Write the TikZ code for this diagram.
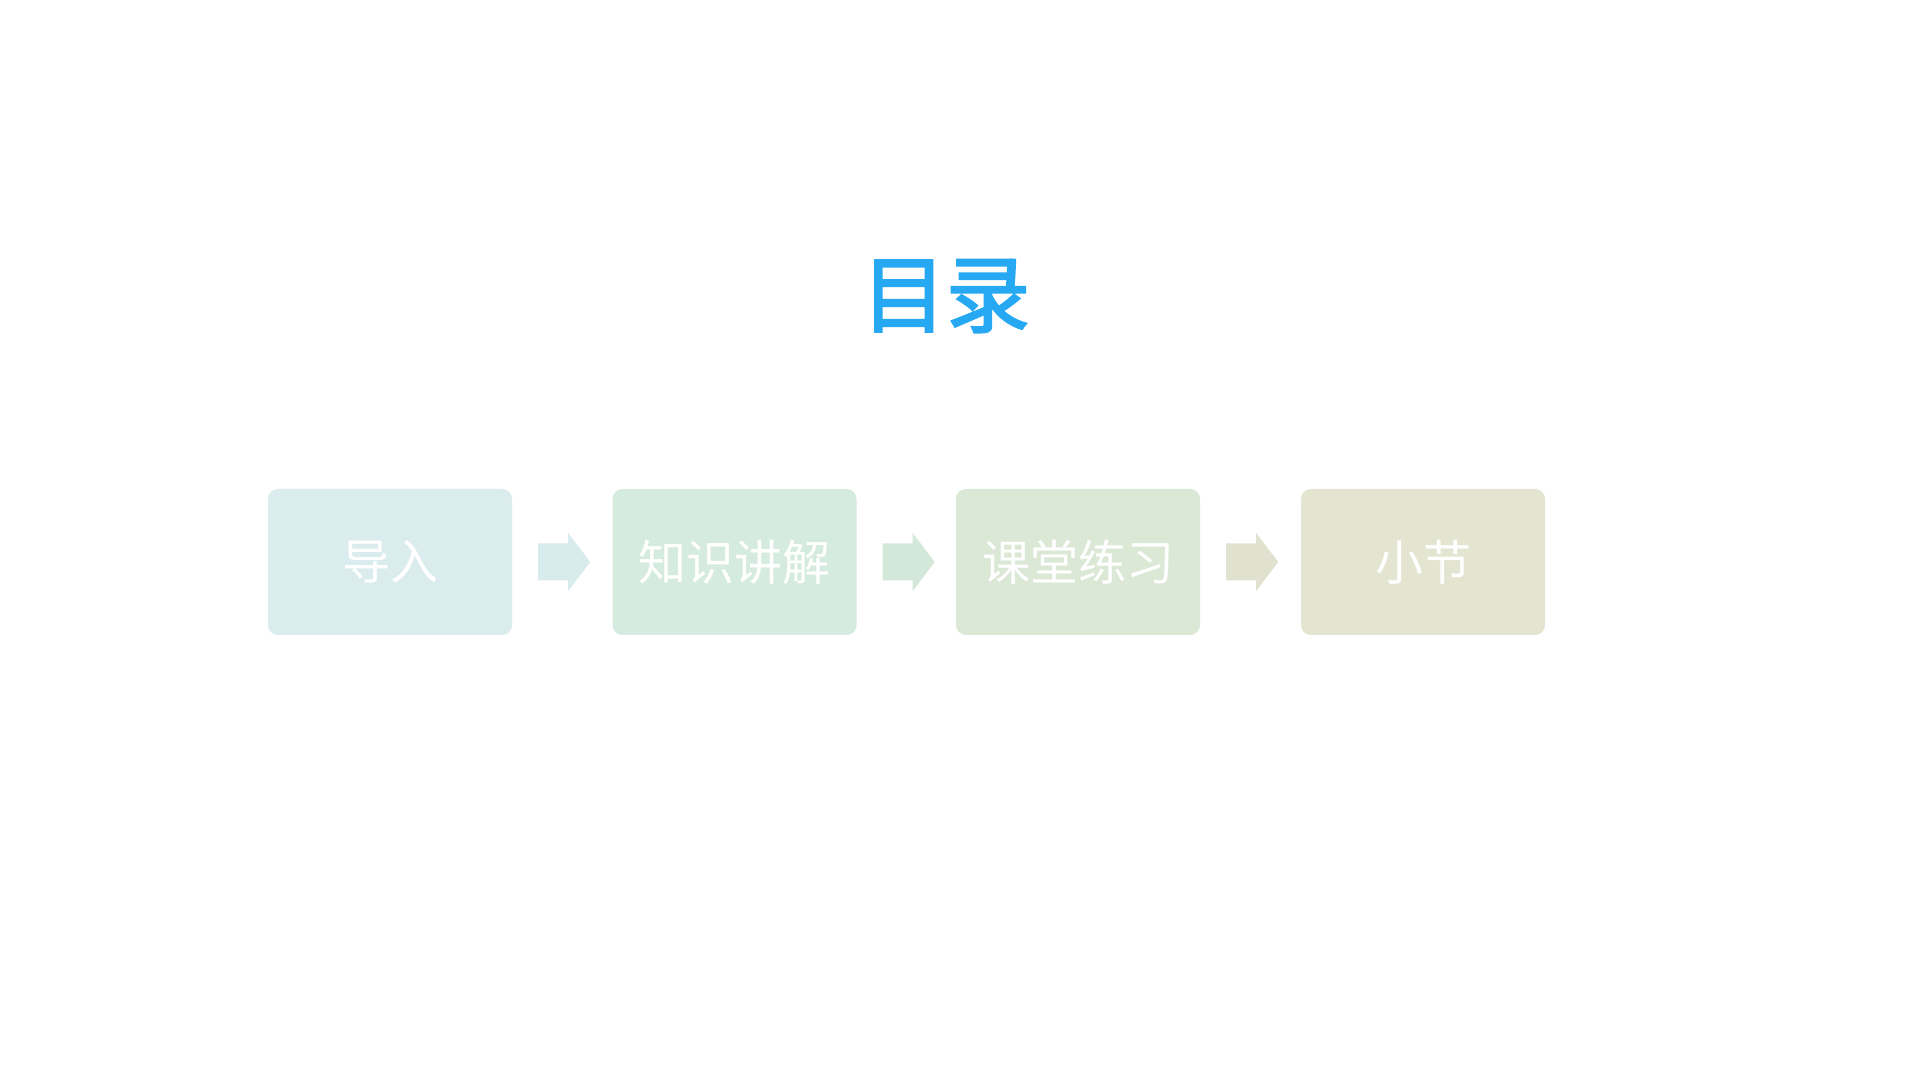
\documentclass[tikz,border=0pt]{standalone}
\usepackage{fontspec}
\newfontfamily\cjk{Noto Sans CJK SC}
\newfontfamily\cjktitle{Noto Sans CJK SC}[FakeBold=2.5]
\definecolor{titleblue}{HTML}{27A8F2}
\definecolor{boxA}{HTML}{DBECEE}
\definecolor{boxB}{HTML}{D6EBDF}
\definecolor{boxC}{HTML}{DBE8D5}
\definecolor{boxD}{HTML}{E3E5D1}
\definecolor{arrA}{HTML}{D8EBED}
\definecolor{arrB}{HTML}{D4E8D9}
\definecolor{arrC}{HTML}{E0E2CF}
\newcommand\blockarrow[2]{%
  \fill[#2] (#1) ++(0,18.5) -- ++(30,0) -- ++(0,10.5) -- ++(22,-29)
    -- ++(-22,-29) -- ++(0,10.5) -- ++(-30,0) -- cycle;}
\tikzset{
  stepbox/.style={rounded corners=10pt, minimum width=244pt, minimum height=146pt,
    inner sep=0pt, text=white, font=\cjk\fontsize{48}{48}\selectfont},
  titletext/.style={text=titleblue, font=\cjktitle\fontsize{84}{84}\selectfont, inner sep=0pt}
}
\begin{document}
\begin{tikzpicture}[x=1pt,y=1pt]
  \useasboundingbox[fill=white] (0,0) rectangle (1920,1080);
  \node[titletext] (title) at (946,784) {目录};
  \node[stepbox, fill=boxA] (b1) at (390,518) {导入};
  \node[stepbox, fill=boxB] (b2) at (734.5,518) {知识讲解};
  \node[stepbox, fill=boxC] (b3) at (1078,518) {课堂练习};
  \node[stepbox, fill=boxD] (b4) at (1423,518) {小节};
  \coordinate (a1) at ([xshift=26pt]b1.east);
  \coordinate (a2) at ([xshift=26pt]b2.east);
  \coordinate (a3) at ([xshift=26pt]b3.east);
  \blockarrow{a1}{arrA}
  \blockarrow{a2}{arrB}
  \blockarrow{a3}{arrC}
\end{tikzpicture}
\end{document}
